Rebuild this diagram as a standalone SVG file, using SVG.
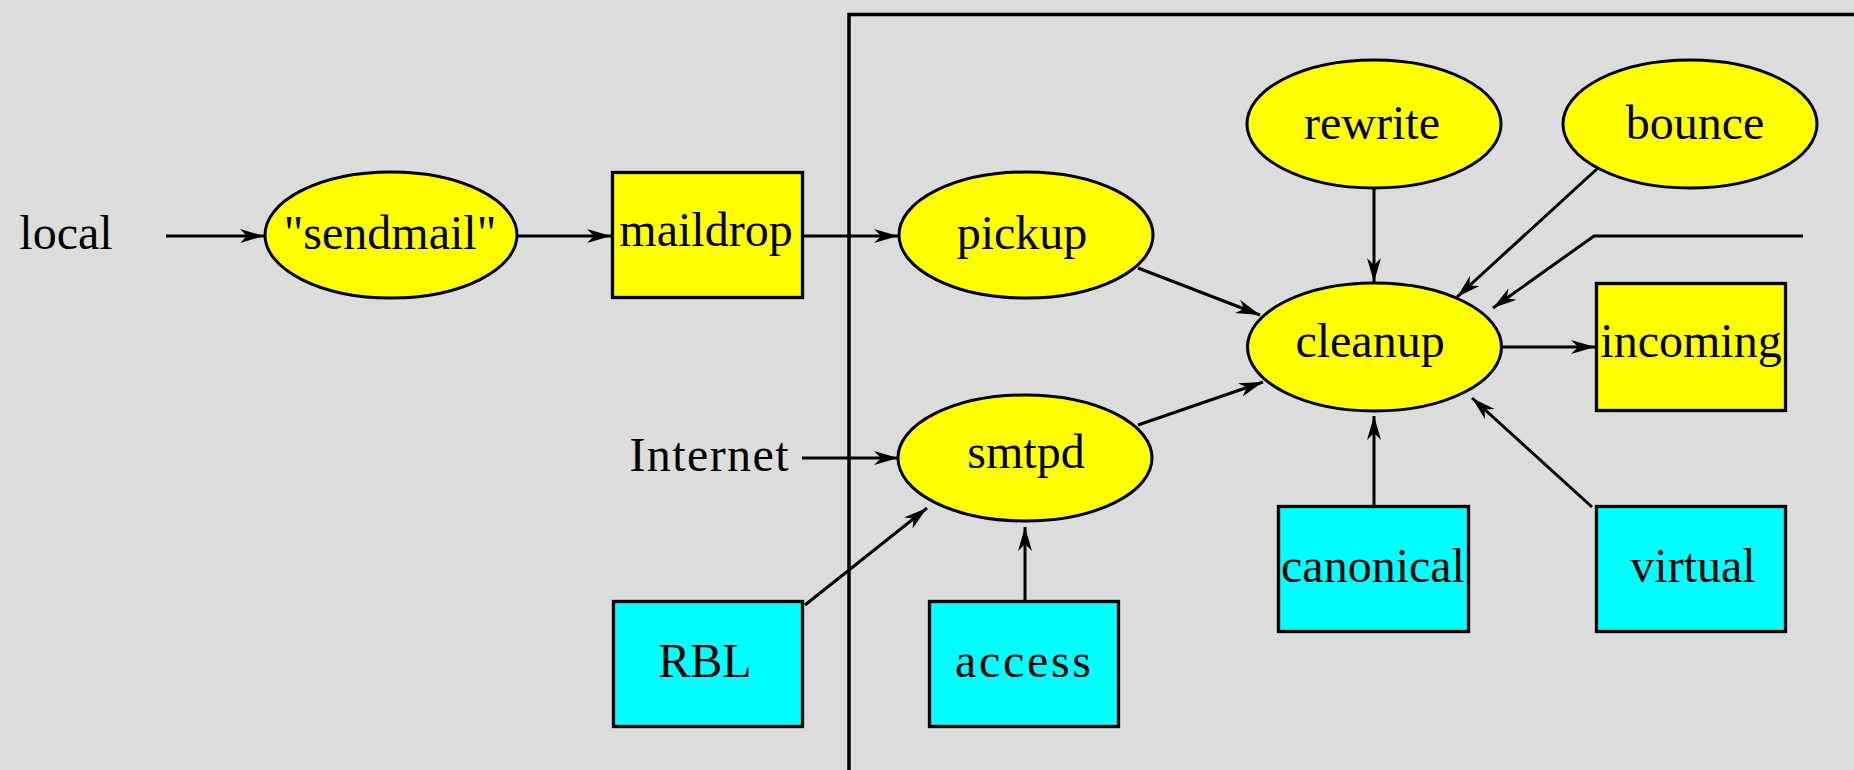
<svg xmlns="http://www.w3.org/2000/svg" width="1854" height="770" viewBox="0 0 1854 770">
  <style>
    .bg { fill: #dcdcdc; }
    .proc ellipse { fill: #ffff00; stroke: #000; stroke-width: 3; }
    .queue rect { fill: #ffff00; stroke: #000; stroke-width: 3.3; }
    .table rect { fill: #00ffff; stroke: #000; stroke-width: 3.3; }
    text { font-family: "Liberation Serif", "Times New Roman", serif; font-size: 48px; fill: #000; text-anchor: middle; }
    .edge { fill: none; stroke: #000; stroke-width: 3; }
    .frame { fill: none; stroke: #000; stroke-width: 3.5; }
  </style>
  <defs>
    <marker id="arr" markerUnits="userSpaceOnUse" markerWidth="26" markerHeight="16" refX="24" refY="8" orient="auto">
      <path d="M0,1 L24,8 L0,15 L7,8 z" fill="#000"/>
    </marker>
  </defs>
  <rect class="bg" x="0" y="0" width="1854" height="770"/>
  <polyline class="frame" points="849,770 849,14.5 1854,14.5"/>

  <g id="connectors">
    <line class="edge" x1="166" y1="236" x2="264" y2="236" marker-end="url(#arr)"/>
    <line class="edge" x1="518" y1="236" x2="611" y2="236" marker-end="url(#arr)"/>
    <line class="edge" x1="804" y1="236" x2="898" y2="236" marker-end="url(#arr)"/>
    <line class="edge" x1="1138" y1="268" x2="1260" y2="315" marker-end="url(#arr)"/>
    <line class="edge" x1="1138" y1="425" x2="1263" y2="382" marker-end="url(#arr)"/>
    <line class="edge" x1="1374" y1="189" x2="1374" y2="282" marker-end="url(#arr)"/>
    <line class="edge" x1="1598" y1="168" x2="1457" y2="297" marker-end="url(#arr)"/>
    <polyline class="edge" points="1803,236 1594,236 1493,308" marker-end="url(#arr)"/>
    <line class="edge" x1="1502" y1="347" x2="1595" y2="347" marker-end="url(#arr)"/>
    <line class="edge" x1="1374" y1="505" x2="1374" y2="416" marker-end="url(#arr)"/>
    <line class="edge" x1="1592" y1="507" x2="1472" y2="398" marker-end="url(#arr)"/>
    <line class="edge" x1="802" y1="458" x2="898" y2="458" marker-end="url(#arr)"/>
    <line class="edge" x1="805" y1="605" x2="927" y2="508" marker-end="url(#arr)"/>
    <line class="edge" x1="1025" y1="600" x2="1025" y2="527" marker-end="url(#arr)"/>
  </g>

  <g id="local"><text x="66" y="249">local</text></g>
  <g id="internet"><text x="709" y="471" textLength="159" lengthAdjust="spacing">Internet</text></g>

  <g id="sendmail" class="proc">
    <ellipse cx="391" cy="235" rx="126" ry="63"/>
    <text x="390" y="249">"sendmail"</text>
  </g>
  <g id="maildrop" class="queue">
    <rect x="612.5" y="172.5" width="190" height="125"/>
    <text x="706" y="246">maildrop</text>
  </g>
  <g id="pickup" class="proc">
    <ellipse cx="1026" cy="235" rx="127" ry="63"/>
    <text x="1022" y="249">pickup</text>
  </g>
  <g id="rewrite" class="proc">
    <ellipse cx="1374" cy="124" rx="127" ry="64"/>
    <text x="1372" y="139">rewrite</text>
  </g>
  <g id="bounce" class="proc">
    <ellipse cx="1690" cy="124" rx="127" ry="64"/>
    <text x="1695" y="139">bounce</text>
  </g>
  <g id="cleanup" class="proc">
    <ellipse cx="1374.5" cy="347" rx="127" ry="64"/>
    <text x="1370" y="357">cleanup</text>
  </g>
  <g id="incoming" class="queue">
    <rect x="1596.5" y="283.5" width="189" height="127"/>
    <text x="1691" y="357">incoming</text>
  </g>
  <g id="smtpd" class="proc">
    <ellipse cx="1025" cy="458" rx="127" ry="63"/>
    <text x="1026" y="468">smtpd</text>
  </g>
  <g id="RBL" class="table">
    <rect x="613.5" y="601.5" width="189" height="125"/>
    <text x="705" y="677">RBL</text>
  </g>
  <g id="access" class="table">
    <rect x="929.5" y="601.5" width="189" height="125"/>
    <text x="1023" y="677" textLength="136" lengthAdjust="spacing">access</text>
  </g>
  <g id="canonical" class="table">
    <rect x="1278.5" y="506.5" width="190" height="125"/>
    <text x="1373" y="582">canonical</text>
  </g>
  <g id="virtual" class="table">
    <rect x="1596.5" y="506.5" width="189" height="125"/>
    <text x="1693" y="582">virtual</text>
  </g>
</svg>
